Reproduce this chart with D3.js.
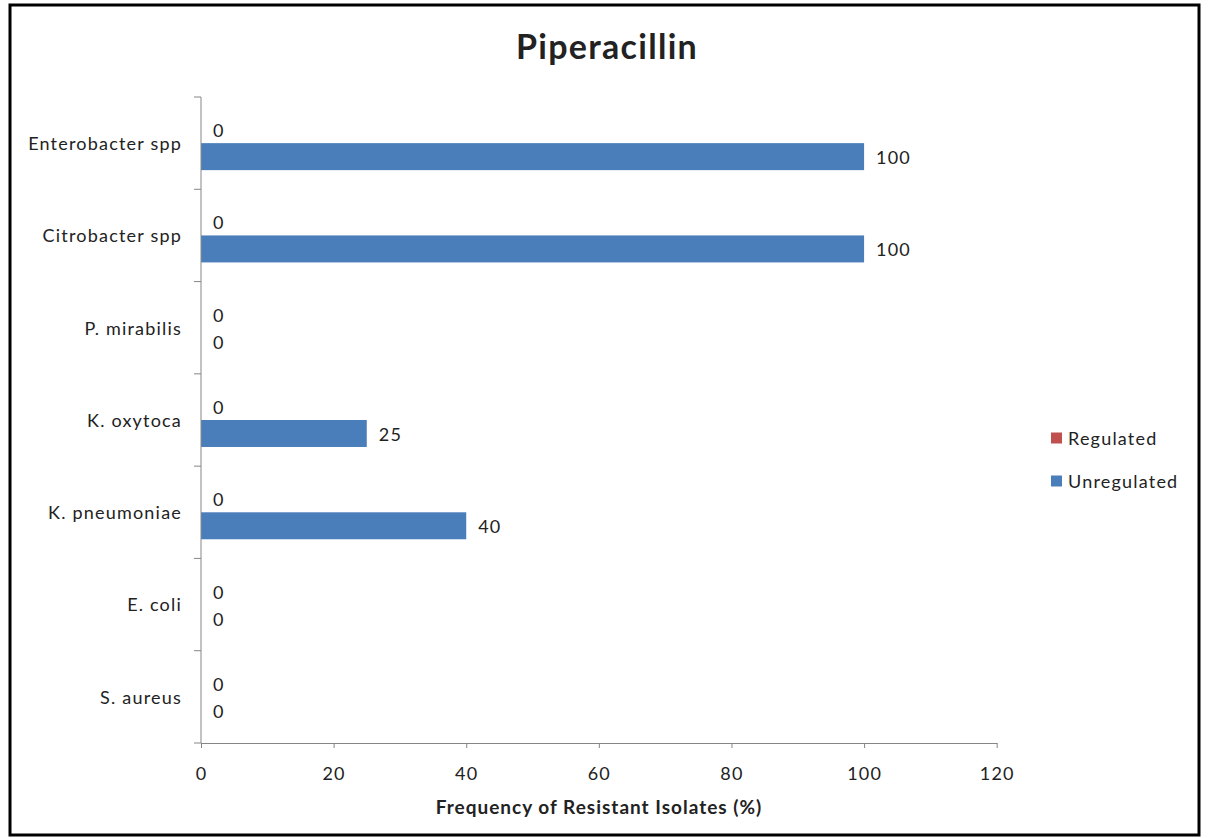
<!DOCTYPE html>
<html>
<head>
<meta charset="utf-8">
<script src="https://cdn.jsdelivr.net/npm/d3@7"></script>
<style>
  html, body { margin: 0; padding: 0; background: #fff; }
  svg { display: block; }
  text { font-family: Lato, "Open Sans", sans-serif; fill: #222; }
  .lbl { font-size: 18px; letter-spacing: 1.2px; }
</style>
</head>
<body>
<svg id="chart" width="1208" height="838"></svg>
<script>
// Organisms, listed bottom to top as on the axis
const categories = ["S. aureus", "E. coli", "K. pneumoniae", "K. oxytoca", "P. mirabilis", "Citrobacter spp", "Enterobacter spp"];
const seriesNames = ["Regulated", "Unregulated"];
const regulated = [0, 0, 0, 0, 0, 0, 0];
const unregulated = [0, 0, 40, 25, 0, 100, 100];
const xTicks = [0, 20, 40, 60, 80, 100, 120];
const colors = { Regulated: "#C0504D", Unregulated: "#4A7EBB" };

const svg = d3.select("#chart");

// outer frame
svg.append("rect").attr("x", 10).attr("y", 5).attr("width", 1189).attr("height", 830)
  .attr("fill", "#fff").attr("stroke", "#000").attr("stroke-width", 3);

const plotLeft = 201, plotRight = 996.7, plotTop = 97, plotBottom = 743;

const x = d3.scaleLinear().domain([0, 120]).range([plotLeft, plotRight]);
const y = d3.scaleBand().domain(categories).range([plotBottom, plotTop]);
const inner = d3.scaleBand().domain(seriesNames).range([0, y.bandwidth()]).paddingOuter(0.71);

// title
svg.append("text").attr("x", 607).attr("y", 59).attr("text-anchor", "middle")
  .style("font-size", "34px").style("font-weight", "bold").style("letter-spacing", "1.3px")
  .text("Piperacillin");

// bars with value labels
const rows = categories.map((c, i) => ({ cat: c, Regulated: regulated[i], Unregulated: unregulated[i] }));
const g = svg.append("g");
rows.forEach(r => {
  seriesNames.forEach(s => {
    const yy = y(r.cat) + inner(s);
    g.append("rect").attr("x", x(0)).attr("y", yy)
      .attr("width", x(r[s]) - x(0)).attr("height", inner.bandwidth())
      .attr("fill", colors[s]);
    g.append("text").attr("class", "lbl").attr("x", x(r[s]) + 12).attr("y", yy + inner.bandwidth() / 2)
      .attr("dy", "0.42em").text(r[s]);
  });
});

// y axis with category boundary ticks
const yAxis = svg.append("g").attr("transform", `translate(${plotLeft},0)`);
yAxis.append("line").attr("x1", 0).attr("x2", 0).attr("y1", plotTop).attr("y2", plotBottom).attr("stroke", "#868686");
const yEdges = categories.map(c => y(c)).concat([plotBottom]);
yEdges.forEach(v => yAxis.append("line").attr("x1", -7).attr("x2", 0).attr("y1", v).attr("y2", v).attr("stroke", "#868686"));
categories.forEach(c => {
  yAxis.append("text").attr("class", "lbl").attr("x", -19).attr("y", y(c) + y.bandwidth() / 2).attr("dy", "0.38em")
    .attr("text-anchor", "end").text(c);
});

// x axis
const xAxis = svg.append("g").attr("transform", `translate(0,${plotBottom})`)
  .call(d3.axisBottom(x).tickValues(xTicks).tickSize(5).tickPadding(19).tickSizeOuter(0));
xAxis.select(".domain").attr("stroke", "#868686");
xAxis.selectAll(".tick line").attr("stroke", "#868686");
xAxis.selectAll(".tick text").attr("class", "lbl").attr("font-size", null).attr("font-family", null).attr("fill", "#222");

svg.append("text").attr("x", 599).attr("y", 814).attr("text-anchor", "middle")
  .style("font-size", "19px").style("font-weight", "bold").style("letter-spacing", "1px")
  .text("Frequency of Resistant Isolates (%)");

// legend
const leg = svg.append("g").attr("transform", "translate(1051,438)");
seriesNames.forEach((s, i) => {
  leg.append("rect").attr("x", 0).attr("y", i * 43 - 5.5).attr("width", 11).attr("height", 11).attr("fill", colors[s]);
  leg.append("text").attr("class", "lbl").attr("x", 17).attr("y", i * 43).attr("dy", "0.38em").text(s);
});
</script>
</body>
</html>
